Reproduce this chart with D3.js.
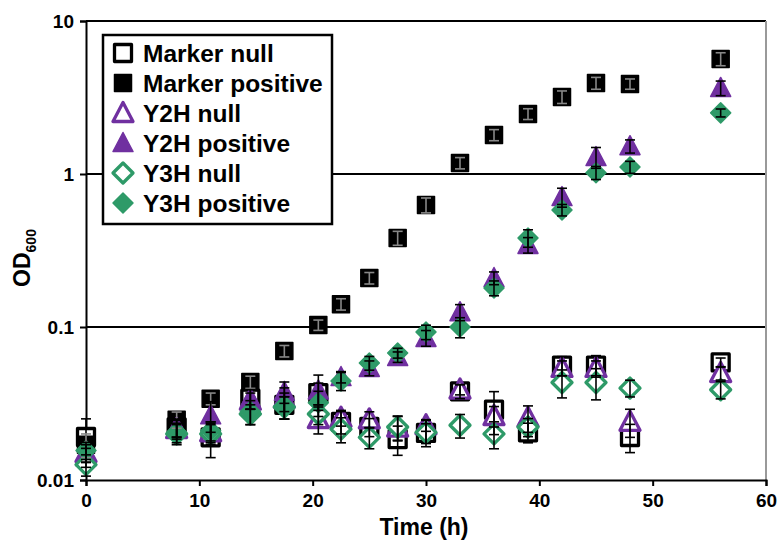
<!DOCTYPE html>
<html><head><meta charset="utf-8">
<script src="https://cdn.jsdelivr.net/npm/d3@7"></script>
<style>body{margin:0;background:#fff}svg{display:block;font-family:"Liberation Sans",Arial,sans-serif;font-weight:bold}</style>
</head><body>
<script>
const times = [0, 8, 11, 14.5, 17.5, 20.5, 22.5, 25, 27.5, 30, 33, 36, 39, 42, 45, 48, 56];
const markerNull = [0.0191, 0.0221, 0.019, 0.034, 0.031, 0.037, 0.024, 0.0222, 0.0185, 0.0203, 0.038, 0.0288, 0.0205, 0.056, 0.056, 0.0191, 0.0587];
const markerNullErr = [0.006, 0.003, 0.005, 0.005, 0.006, 0.006, 0.004, 0.003, 0.004, 0.003, 0.004, 0.009, 0.003, 0.008, 0.009, 0.004, 0.004];
const markerPos = [0.017, 0.0248, 0.034, 0.0437, 0.0697, 0.103, 0.141, 0.209, 0.382, 0.627, 1.18, 1.80, 2.47, 3.19, 3.93, 3.88, 5.65];
const markerPosErr = [0.003, 0.003, 0.003, 0.004, 0.006, 0.008, 0.012, 0.018, 0.04, 0.07, 0.1, 0.15, 0.2, 0.3, 0.35, 0.3, 0.55];
const y2hNull = [0.015, 0.0215, 0.0205, 0.033, 0.034, 0.025, 0.0255, 0.0249, 0.022, 0.0228, 0.039, 0.0262, 0.0255, 0.054, 0.054, 0.024, 0.050];
const y2hNullErr = [0.002, 0.003, 0.003, 0.004, 0.006, 0.005, 0.003, 0.003, 0.004, 0.002, 0.003, 0.004, 0.005, 0.006, 0.006, 0.005, 0.005];
const y2hPos = [0.0141, 0.022, 0.0265, 0.034, 0.0377, 0.0385, 0.0471, 0.054, 0.0637, 0.0848, 0.125, 0.209, 0.344, 0.707, 1.29, 1.52, 3.65];
const y2hPosErr = [0.002, 0.003, 0.006, 0.005, 0.006, 0.01, 0.004, 0.006, 0.005, 0.01, 0.015, 0.02, 0.04, 0.1, 0.2, 0.15, 0.4];
const y3hNull = [0.0126, 0.020, 0.020, 0.027, 0.030, 0.027, 0.0215, 0.019, 0.0222, 0.0205, 0.0228, 0.020, 0.0222, 0.0434, 0.0434, 0.0399, 0.0389];
const y3hNullErr = [0.002, 0.003, 0.003, 0.004, 0.005, 0.004, 0.004, 0.003, 0.004, 0.004, 0.004, 0.004, 0.003, 0.009, 0.01, 0.005, 0.005];
const y3hPos = [0.0156, 0.0205, 0.021, 0.028, 0.030, 0.032, 0.0444, 0.0582, 0.0676, 0.0927, 0.1, 0.18, 0.382, 0.582, 1.02, 1.11, 2.51];
const y3hPosErr = [0.002, 0.003, 0.003, 0.005, 0.005, 0.006, 0.006, 0.006, 0.005, 0.01, 0.015, 0.02, 0.05, 0.05, 0.1, 0.1, 0.15];
const seriesNames = ["Marker null", "Marker positive", "Y2H null", "Y2H positive", "Y3H null", "Y3H positive"];
const xTicks = [0, 10, 20, 30, 40, 50, 60];
const yTicks = [0.01, 0.1, 1, 10];
const yTickLabels = ["0.01", "0.1", "1", "10"];

const PURPLE = "#7030a0", GREEN = "#2e9a68";
const series = [
  {name: seriesNames[0], v: markerNull, e: markerNullErr, shape: "square", fill: "#fff", stroke: "#000", eb: "#000"},
  {name: seriesNames[1], v: markerPos, e: markerPosErr, shape: "square", fill: "#000", stroke: "#000", eb: "#888"},
  {name: seriesNames[2], v: y2hNull, e: y2hNullErr, shape: "triangle", fill: "#fff", stroke: PURPLE, eb: "#000"},
  {name: seriesNames[3], v: y2hPos, e: y2hPosErr, shape: "triangle", fill: PURPLE, stroke: PURPLE, eb: "#000"},
  {name: seriesNames[4], v: y3hNull, e: y3hNullErr, shape: "diamond", fill: "#fff", stroke: GREEN, eb: "#000"},
  {name: seriesNames[5], v: y3hPos, e: y3hPosErr, shape: "diamond", fill: GREEN, stroke: GREEN, eb: "#000"}
];

const W = 778, H = 544;
const x = d3.scaleLinear().domain([0, 60]).range([86, 766]);
const y = d3.scaleLog().domain([0.01, 10]).range([480, 21]);

const svg = d3.select("body").append("svg").attr("width", W).attr("height", H);

svg.append("g").selectAll("line").data([0.1, 1, 10]).join("line")
  .attr("x1", x(0)).attr("x2", x(60)).attr("y1", d => y(d)).attr("y2", d => y(d))
  .attr("stroke", "#000").attr("stroke-width", 2);
svg.append("line").attr("x1", x(60)).attr("x2", x(60)).attr("y1", y(10)).attr("y2", y(0.01))
  .attr("stroke", "#999").attr("stroke-width", 2);

const yAxis = d3.axisLeft(y).tickValues(yTicks).tickFormat((d, i) => yTickLabels[i]).tickSize(6).tickPadding(6);
const gy = svg.append("g").attr("transform", `translate(${x(0)},0)`).call(yAxis);
const xAxis = d3.axisBottom(x).tickValues(xTicks).tickFormat(d3.format("d")).tickSize(6).tickPadding(8);
const gx = svg.append("g").attr("transform", `translate(0,${y(0.01)})`).call(xAxis);
[gx, gy].forEach(g => {
  g.select(".domain").attr("stroke", "#000").attr("stroke-width", 2);
  g.selectAll(".tick line").attr("stroke", "#000").attr("stroke-width", 2);
  g.selectAll(".tick text").attr("font-size", 19).attr("font-weight", "bold").attr("fill", "#000")
    .attr("font-family", '"Liberation Sans",Arial,sans-serif');
});

function shapePath(shape) {
  if (shape === "square") return "M-8.5,-8.5H8.5V8.5H-8.5Z";
  if (shape === "triangle") return "M0,-10.5L10,8.5L-10,8.5Z";
  return "M0,-10L10,0L0,10L-10,0Z";
}

function drawMarker(g, s, cx, cy) {
  const open = s.fill === "#fff";
  g.append("path").attr("d", shapePath(s.shape))
    .attr("transform", `translate(${cx},${cy})`)
    .attr("fill", s.fill).attr("stroke", s.stroke)
    .attr("stroke-width", open ? 3.3 : 1.5).attr("stroke-linejoin", "round");
}

const gm = svg.append("g");
series.forEach(s => {
  s.v.forEach((v, i) => drawMarker(gm, s, x(times[i]), y(v)));
});

const ge = svg.append("g");
series.forEach(s => {
  s.v.forEach((v, i) => {
    const cx = x(times[i]);
    const lo = y(Math.max(v - s.e[i], 0.0101)), hi = y(v + s.e[i]);
    ge.append("line").attr("x1", cx).attr("x2", cx).attr("y1", lo).attr("y2", hi).attr("stroke", s.eb).attr("stroke-width", 1.6);
    [lo, hi].forEach(yy => ge.append("line").attr("x1", cx - 5).attr("x2", cx + 5).attr("y1", yy).attr("y2", yy).attr("stroke", s.eb).attr("stroke-width", 1.6));
  });
});

const lg = svg.append("g");
lg.append("rect").attr("x", 103).attr("y", 35).attr("width", 229).attr("height", 189)
  .attr("fill", "#fff").attr("stroke", "#000").attr("stroke-width", 2.5);
series.forEach((s, i) => {
  const cy = 53 + i * 30;
  drawMarker(lg, s, 123, cy);
  lg.append("text").attr("x", 143).attr("y", cy + 8.5).attr("font-size", 24.5).attr("fill", "#000").text(s.name);
});

svg.append("text").attr("x", 424).attr("y", 535).attr("text-anchor", "middle").attr("font-size", 23).attr("fill", "#000").text("Time (h)");
const yl = svg.append("text").attr("transform", "translate(30,258) rotate(-90)").attr("text-anchor", "middle").attr("font-size", 23).attr("fill", "#000");
yl.append("tspan").text("OD");
yl.append("tspan").attr("font-size", 14).attr("dy", 6).text("600");
</script>
</body></html>
